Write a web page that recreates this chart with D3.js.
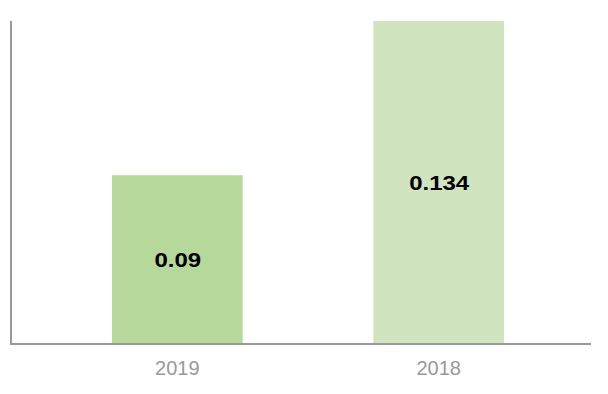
<!DOCTYPE html>
<html>
<head>
<meta charset="utf-8">
<script src="https://cdn.jsdelivr.net/npm/d3@7"></script>
<style>
html,body{margin:0;padding:0;background:#fff;}
svg{display:block;}
</style>
</head>
<body>
<svg id="chart" width="608" height="394"></svg>
<script>
const categories = ["2019", "2018"];
const values = [0.09, 0.134];
const labels = ["0.09", "0.134"];
const colors = ["#b6d89b", "#d1e4c0"];

const svg = d3.select("#chart");
const x = d3.scaleBand().domain(categories).range([112, 504]).paddingInner(0.5).paddingOuter(0);
const y = d3.scaleLinear().domain([0.042, 0.134]).range([343.5, 21]);

svg.selectAll("rect.bar").data(categories).enter().append("rect")
  .attr("class", "bar")
  .attr("x", d => x(d))
  .attr("width", x.bandwidth())
  .attr("y", (d, i) => y(values[i]))
  .attr("height", (d, i) => y.range()[0] - y(values[i]))
  .attr("fill", (d, i) => colors[i]);

// axes
svg.append("line").attr("x1", 11).attr("x2", 11).attr("y1", 21).attr("y2", 344.5)
  .attr("stroke", "#999").attr("stroke-width", 2);
svg.append("line").attr("x1", 10).attr("x2", 591).attr("y1", 344).attr("y2", 344)
  .attr("stroke", "#999").attr("stroke-width", 2);

const xAxis = d3.axisBottom(x).tickSize(0).tickPadding(0);
const gx = svg.append("g").attr("transform", "translate(0,344)").call(xAxis);
gx.select(".domain").remove();
gx.selectAll("text")
  .attr("y", 31).attr("dy", null)
  .attr("font-family", "Arial, 'Liberation Sans', sans-serif")
  .attr("font-size", 20)
  .attr("fill", "#999");

svg.selectAll("text.val").data(categories).enter().append("text")
  .attr("class", "val")
  .attr("transform", (d, i) => `translate(${x(d) + x.bandwidth() / 2 + 0.5},${(y(values[i]) + y.range()[0]) / 2 + 7.5}) scale(1.2,1)`)
  .attr("text-anchor", "middle")
  .attr("font-family", "Arial, 'Liberation Sans', sans-serif")
  .attr("font-weight", "bold")
  .attr("font-size", 20)
  .attr("fill", "#000")
  .text((d, i) => labels[i]);
</script>
</body>
</html>
